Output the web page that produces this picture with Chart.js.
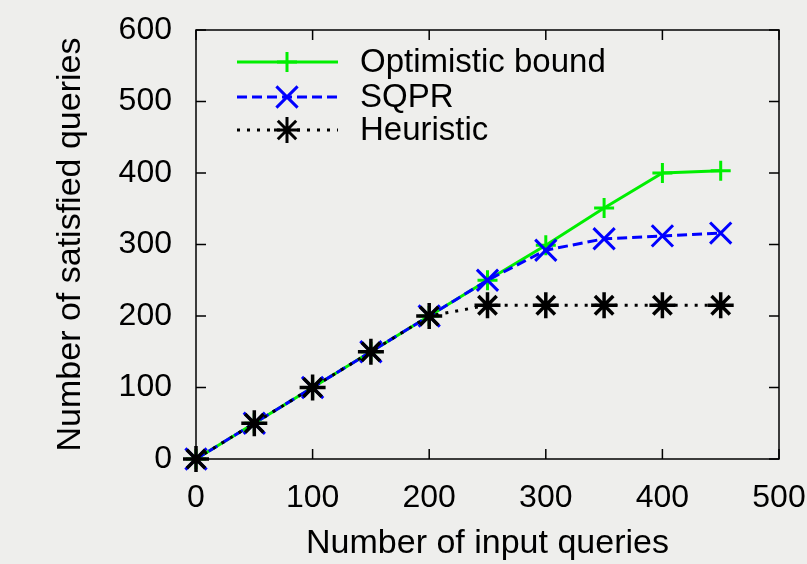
<!DOCTYPE html>
<html>
<head>
<meta charset="utf-8">
<script src="https://cdn.jsdelivr.net/npm/chart.js@4"></script>
<style>
  html, body { margin: 0; padding: 0; background: #eeeeec; }
  #wrap { width: 807px; height: 564px; }
</style>
</head>
<body>
<div id="wrap"><canvas id="chart" width="807" height="564"></canvas></div>
<script>
// data
const inputQueries = [0, 50, 100, 150, 200, 250, 300, 350, 400, 450];
const optimisticBound = [0, 50, 100, 150, 200, 250, 299, 351, 400, 403];
const sqpr = [0, 50, 100, 150, 200, 250, 292, 308, 312, 316];
const heuristic = [0, 50, 100, 150, 200, 215, 215, 215, 215, 215];
const xTicks = [0, 100, 200, 300, 400, 500];
const yTicks = [0, 100, 200, 300, 400, 500, 600];

const FONT = 'Liberation Sans, Arial, sans-serif';

function pts(ys) {
    return inputQueries.map((x, i) => ({ x: x, y: ys[i] }));
}

// inward ticks on all four sides + frame
const frame = {
    id: 'frame',
    afterDatasetsDraw(chart) {
        const { ctx, chartArea: a, scales } = chart;
        ctx.save();
        ctx.strokeStyle = '#000';
        ctx.lineWidth = 1.5;
        ctx.beginPath();
        const len = 10;
        xTicks.forEach(v => {
            const px = scales.x.getPixelForValue(v);
            ctx.moveTo(px, a.bottom); ctx.lineTo(px, a.bottom - len);
            ctx.moveTo(px, a.top); ctx.lineTo(px, a.top + len);
        });
        yTicks.forEach(v => {
            const py = scales.y.getPixelForValue(v);
            ctx.moveTo(a.left, py); ctx.lineTo(a.left + len, py);
            ctx.moveTo(a.right, py); ctx.lineTo(a.right - len, py);
        });
        ctx.stroke();
        ctx.strokeRect(a.left, a.top, a.right - a.left, a.bottom - a.top);
        ctx.restore();
    }
};

// gnuplot style key: line sample with marker in the middle
const key = {
    id: 'key',
    afterDraw(chart) {
        const { ctx } = chart;
        const rows = [62, 97, 130];
        ctx.save();
        chart.data.datasets.forEach((ds, i) => {
            const y = rows[i];
            ctx.strokeStyle = ds.borderColor;
            ctx.lineWidth = ds.borderWidth;
            ctx.setLineDash(ds.borderDash || []);
            ctx.beginPath();
            ctx.moveTo(237, y);
            ctx.lineTo(338, y);
            ctx.stroke();
            ctx.setLineDash([]);
            Chart.helpers.drawPoint(ctx, {
                pointStyle: ds.pointStyle,
                radius: ds.pointRadius,
                borderWidth: ds.pointBorderWidth,
                rotation: 0
            }, 287, y);
            ctx.fillStyle = '#000';
            ctx.font = '33px ' + FONT;
            ctx.textBaseline = 'middle';
            ctx.fillText(ds.label, 360, y + 1);
        });
        ctx.restore();
    }
};

const data = {
    datasets: [
        {
            label: 'Optimistic bound',
            data: pts(optimisticBound),
            borderColor: '#00ee00',
            pointBorderColor: '#00ee00',
            borderWidth: 3,
            pointStyle: 'cross',
            pointRadius: 10,
            pointBorderWidth: 3,
            order: 3
        },
        {
            label: 'SQPR',
            data: pts(sqpr),
            borderColor: '#0000ff',
            pointBorderColor: '#0000ff',
            borderWidth: 3,
            borderDash: [10, 5],
            pointStyle: 'crossRot',
            pointRadius: 15,
            pointBorderWidth: 3,
            order: 2
        },
        {
            label: 'Heuristic',
            data: pts(heuristic),
            borderColor: '#000000',
            pointBorderColor: '#000000',
            borderWidth: 3,
            borderDash: [3, 7],
            pointStyle: 'star',
            pointRadius: 13,
            pointBorderWidth: 3.5,
            order: 1
        }
    ]
};

const config = {
    type: 'line',
    data: data,
    options: {
        responsive: false,
        animation: false,
        layout: { padding: { top: 30, right: 28, bottom: 0, left: 0 } },
        elements: { line: { tension: 0, fill: false } },
        datasets: { line: { clip: false, pointBackgroundColor: 'transparent' } },
        plugins: { legend: { display: false }, tooltip: { enabled: false } },
        scales: {
            x: {
                type: 'linear',
                min: 0, max: 500,
                afterBuildTicks: s => { s.ticks = xTicks.map(v => ({ value: v })); },
                ticks: { color: '#000', font: { family: FONT, size: 32 }, padding: 12, maxRotation: 0 },
                grid: { display: false },
                border: { display: false },
                title: { display: true, text: 'Number of input queries', color: '#000',
                         font: { family: FONT, size: 34 }, padding: { top: 4, bottom: 0 } },
                afterFit: s => { s.height = 105; s.paddingLeft = 0; s.paddingRight = 0; }
            },
            y: {
                min: 0, max: 600,
                afterBuildTicks: s => { s.ticks = yTicks.map(v => ({ value: v })); },
                ticks: { color: '#000', font: { family: FONT, size: 32 }, padding: 16 },
                grid: { display: false },
                border: { display: false },
                title: { display: true, text: 'Number of satisfied queries', color: '#000',
                         font: { family: FONT, size: 34 }, padding: { top: 50, bottom: 0 } },
                afterFit: s => { s.width = 196; s.paddingTop = 0; s.paddingBottom = 0; }
            }
        }
    },
    plugins: [frame, key]
};

const chart = new Chart(document.getElementById('chart'), config);
</script>
</body>
</html>
